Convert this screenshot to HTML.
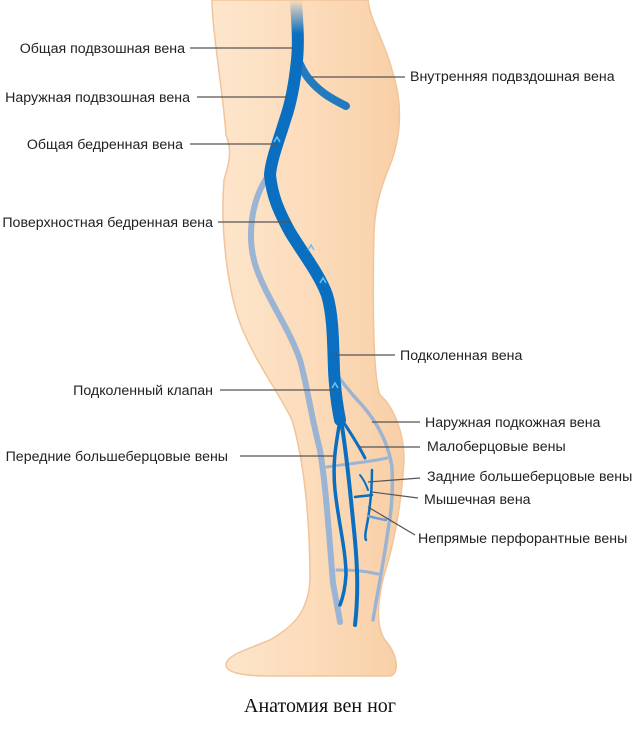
<!DOCTYPE html>
<html><head><meta charset="utf-8"><style>
body{margin:0;background:#fff;}
svg{display:block}
text{font-family:"Liberation Sans",Arial,sans-serif;font-size:14.2px;fill:#222}
</style></head><body>
<svg width="640" height="730" viewBox="0 0 640 730">
<defs>
<linearGradient id="fadeTop" x1="0" y1="0" x2="0" y2="1">
<stop offset="0" stop-color="#0a6fc0" stop-opacity="0"/><stop offset="0.08" stop-color="#0a6fc0" stop-opacity="1"/><stop offset="1" stop-color="#0a6fc0"/></linearGradient>
<linearGradient id="skin" x1="0" y1="0" x2="1" y2="0">
<stop offset="0" stop-color="#fde6cd"/><stop offset="0.5" stop-color="#fcdcbb"/><stop offset="1" stop-color="#f8cfa6"/></linearGradient>
</defs>
<path d="M212,0 C212,30 224,100 226,135 C232,150 230,160 224,180 C220,230 228,300 245,335 C258,365 280,395 292,420 C304,460 310,520 310,580 C308,610 296,625 270,640 C245,650 228,655 226,664 C225,672 240,676 270,676 L390,676 C400,674 398,655 385,640 C375,625 378,600 384,575 C394,545 402,500 404,460 C404,430 392,405 380,395 C374,380 372,320 374,230 C376,200 382,185 392,160 C402,130 402,100 392,70 C384,40 370,20 368,0 Z" fill="url(#skin)" stroke="#f1c49a" stroke-width="1.5"/>
<g fill="none" stroke="#9bb4d4" stroke-linecap="round">
<path d="M270,173 C250,200 246,240 257,270 C268,300 290,330 300,360 C307,385 312,420 320,450 C325,480 328,520 333,583 C336,600 338,610 340,622" stroke-width="6"/>
<path d="M335,373 C345,385 352,395 362,405 C375,420 388,440 392,467 C393,490 392,510 388,530 C384,560 378,590 373,620" stroke-width="3.5"/>
<path d="M327,467 C345,464 370,462 387,458" stroke-width="3"/>
<path d="M337,570 C355,570 365,571 378,574" stroke-width="3"/>
</g>
<g fill="none" stroke="#0a6fc0" stroke-linecap="round">
<path d="M296,0 C297,20 299,40 297,60 C295,80 292,100 285,120 C279,140 271,160 270,175 C272,195 278,210 290,232 C302,252 320,275 327,295 C333,315 333,340 334,370 C335,390 337,405 340,420" stroke="url(#fadeTop)" stroke-width="12"/>
<path d="M300,64 C305,76 314,86 325,94 C332,99 340,103 346,106" stroke-width="8" opacity="0.9"/>
<path d="M340,420 C337,440 332,460 335,490 C338,520 346,550 346,575 C345,590 342,600 340,605" stroke-width="3.5"/>
<path d="M341,420 C346,450 350,490 354,530 C357,560 359,590 355,625" stroke-width="4"/>
<path d="M342,420 C350,432 358,444 365,458" stroke-width="3"/>
<path d="M372,470 C372,490 370,510 366,530 C365,535 365,538 366,540" stroke-width="2.5"/>
<path d="M360,475 C364,480 366,484 368,490" stroke-width="2"/>
<path d="M355,497 C362,496 366,496 372,495" stroke-width="2.5"/>
<path d="M368,516 C375,518 380,519 386,520" stroke-width="2.5" stroke="#6e9fd0"/>
</g>
<g fill="none" stroke="#6fc0f0" stroke-width="1.5">
<path d="M274,142 l3,-5 l3,5"/><path d="M308,250 l3,-5 l3,5"/><path d="M320,283 l3,-5 l3,5"/><path d="M332,388 l3,-5 l3,5"/>
</g>
<g stroke="#555" stroke-width="1.2">
<line x1="190" y1="48" x2="294" y2="48"/>
<line x1="312" y1="77" x2="405" y2="77"/>
<line x1="197" y1="97" x2="288" y2="97"/>
<line x1="190" y1="144" x2="277" y2="144"/>
<line x1="218" y1="222" x2="291" y2="222"/>
<line x1="334" y1="355" x2="395" y2="355"/>
<line x1="220" y1="390" x2="335" y2="390"/>
<line x1="372" y1="422" x2="420" y2="422"/>
<line x1="360" y1="447" x2="420" y2="447"/>
<line x1="240" y1="456" x2="333" y2="456"/>
<line x1="368" y1="482" x2="420" y2="478"/>
<line x1="372" y1="492" x2="418" y2="498"/>
<line x1="368" y1="507" x2="415" y2="535"/>
</g>
<text x="185" y="53" text-anchor="end">Общая подвзошная вена</text>
<text x="410" y="81">Внутренняя подвздошная вена</text>
<text x="190" y="102" text-anchor="end">Наружная подвзошная вена</text>
<text x="183" y="149" text-anchor="end">Общая бедренная вена</text>
<text x="213" y="227" text-anchor="end">Поверхностная бедренная вена</text>
<text x="400" y="360">Подколенная вена</text>
<text x="213" y="395" text-anchor="end">Подколенный клапан</text>
<text x="425" y="427">Наружная подкожная вена</text>
<text x="427" y="451">Малоберцовые вены</text>
<text x="228" y="461" text-anchor="end">Передние большеберцовые вены</text>
<text x="427" y="481">Задние большеберцовые вены</text>
<text x="424" y="504">Мышечная вена</text>
<text x="418" y="543">Непрямые перфорантные вены</text>
<text x="320" y="712" text-anchor="middle" style="font-family:'Liberation Serif',serif;font-size:20px;fill:#111">Анатомия вен ног</text>
</svg>
</body></html>
